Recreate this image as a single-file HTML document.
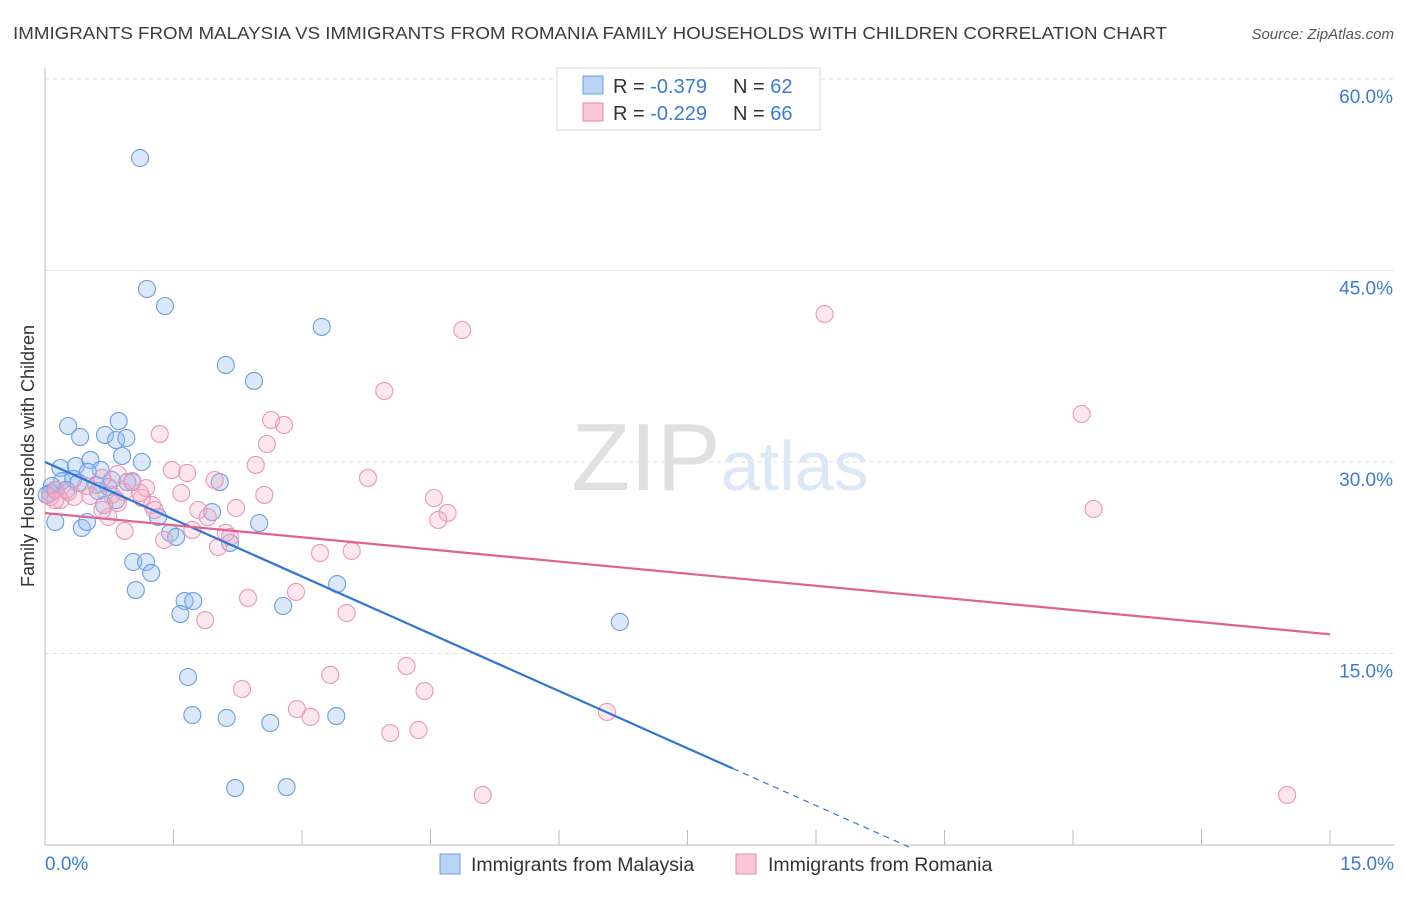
<!DOCTYPE html>
<html><head><meta charset="utf-8"><style>
body{margin:0;background:#fff;font-family:"Liberation Sans",sans-serif;}
svg text{font-family:"Liberation Sans",sans-serif;}
</style></head><body>
<svg id="chart" width="1406" height="892" xmlns="http://www.w3.org/2000/svg">
<text x="13" y="39" font-size="17.5" fill="#3c3c3c" textLength="1154" lengthAdjust="spacingAndGlyphs">IMMIGRANTS FROM MALAYSIA VS IMMIGRANTS FROM ROMANIA FAMILY HOUSEHOLDS WITH CHILDREN CORRELATION CHART</text>
<text x="1394" y="39" font-size="15" fill="#555" text-anchor="end" font-style="italic">Source: ZipAtlas.com</text>
<g id="grid"></g>
<text x="720" y="490" font-size="96" fill="#e4e4e4" text-anchor="middle" font-family="Liberation Serif"><tspan fill="#e0e0e0">ZIP</tspan><tspan fill="#dce8f6" font-family="Liberation Sans" font-size="70">atlas</tspan></text>
<line x1="45" y1="68" x2="45" y2="845" stroke="#bbb"/>
<line x1="45" y1="845" x2="1394" y2="845" stroke="#bbb"/>
<g id="ticks"></g>
<g id="pts"></g>
<g id="lines"></g>
<text transform="translate(34,456) rotate(-90)" font-size="18" fill="#333" text-anchor="middle">Family Households with Children</text>
<g>
<rect x="557" y="68" width="263" height="62" fill="#fff" stroke="#d8d8d8"/>
<rect x="583" y="76" width="20" height="18" fill="#b9d3f5" stroke="#6a9ee0"/>
<rect x="583" y="103" width="20" height="18" fill="#f9c6d6" stroke="#e88aa8"/>
<text x="613" y="93" font-size="20" fill="#333">R = <tspan fill="#3a7bd5">-0.379</tspan><tspan x="733">N = </tspan><tspan fill="#3a7bd5">62</tspan></text>
<text x="613" y="120" font-size="20" fill="#333">R = <tspan fill="#3a7bd5">-0.229</tspan><tspan x="733">N = </tspan><tspan fill="#3a7bd5">66</tspan></text>
</g>
<g>
<rect x="440" y="854" width="20" height="20" fill="#b9d3f5" stroke="#6a9ee0"/>
<text x="471" y="871" font-size="19.5" fill="#333">Immigrants from Malaysia</text>
<rect x="736" y="854" width="20" height="20" fill="#f9c6d6" stroke="#e88aa8"/>
<text x="768" y="871" font-size="19.5" fill="#333">Immigrants from Romania</text>
</g>
</svg>
<script>
const xTicks=[0,1.5,3,4.5,6,7.5,9,10.5,12,13.5,15];
const yTicks=[15,30,45,60];
const yTickLabels=["15.0%","30.0%","45.0%","60.0%"];
const xEndLabels=["0.0%","15.0%"];
const malaysiaX=[1.11,1.19,1.40,3.23,2.11,2.44,0.27,0.41,0.70,0.86,0.83,0.95,0.90,1.13,0.18,0.36,0.53,0.65,0.50,0.20,0.33,0.08,0.06,0.60,0.74,0.96,1.02,2.04,1.95,0.12,0.43,0.49,0.69,0.83,1.32,1.46,1.53,2.16,2.50,1.03,1.18,1.24,1.06,1.63,1.73,1.58,2.78,3.41,6.71,1.67,1.72,2.12,2.63,3.40,2.22,2.82,0.12,0.02,0.25,0.78,0.62,0.39];
const malaysiaY=[53.81,43.55,42.22,40.58,37.60,36.35,32.82,31.96,32.12,33.21,31.72,31.88,30.47,30.00,29.53,29.69,30.16,29.37,29.22,28.51,28.67,28.12,27.57,28.20,28.04,28.43,28.43,28.43,26.08,25.30,24.83,25.30,26.63,27.02,25.69,24.44,24.13,23.66,25.22,22.17,22.17,21.31,19.97,19.11,19.11,18.09,18.72,20.44,17.47,13.16,10.18,9.95,9.56,10.10,4.46,4.54,27.81,27.42,27.81,28.59,27.73,28.36];
const romaniaX=[9.10,4.87,3.96,2.64,2.79,1.34,2.59,2.46,1.48,1.66,0.85,1.98,3.77,1.02,1.18,1.59,2.56,4.54,4.70,4.59,12.10,12.24,2.23,1.79,1.90,1.25,1.28,0.74,0.53,0.34,0.18,0.06,0.13,0.67,0.93,1.39,2.02,2.16,3.21,3.58,2.93,2.37,1.87,3.52,2.30,3.33,4.22,4.43,2.94,3.10,4.03,4.36,6.56,5.11,14.50,1.13,0.92,1.72,1.11,0.27,0.12,0.48,0.78,0.67,0.85,2.11];
const romaniaY=[41.59,40.34,35.56,33.29,32.90,32.19,31.41,29.77,29.37,29.14,29.06,28.59,28.75,28.51,27.96,27.57,27.42,27.18,26.01,25.46,33.76,26.32,26.40,26.24,25.69,26.63,26.24,25.69,27.34,27.26,27.02,27.26,27.81,28.75,24.60,23.89,23.34,24.13,22.87,23.03,19.82,19.35,17.62,18.17,12.22,13.32,14.02,12.06,10.65,10.03,8.77,9.01,10.42,3.92,3.92,27.18,27.65,24.67,27.57,27.65,27.02,28.12,27.42,26.24,26.79,24.44];
const malaysiaTrend=[30.0,-2.99];
const malaysiaSolidEnd=8.03, malaysiaDashEnd=10.1;
const romaniaTrend=[26.0,-0.633];

const NS="http://www.w3.org/2000/svg";
const sx=v=>45+v*(1330-45)/15;
const sy=v=>845-v*(845-79)/60;
function mk(tag,attrs,parent){const e=document.createElementNS(NS,tag);for(const k in attrs)e.setAttribute(k,attrs[k]);parent.appendChild(e);return e;}
const grid=document.getElementById('grid'),ticks=document.getElementById('ticks'),pts=document.getElementById('pts'),lines=document.getElementById('lines');
yTicks.forEach((t,i)=>{
  const l=mk('line',{x1:45,x2:1394,y1:sy(t),y2:sy(t),stroke:'#ddd','stroke-dasharray':'4,4'},grid);
  
  
  const tx=mk('text',{x:1393,y:sy(t)+24,'font-size':19,fill:'#3a7bd5','text-anchor':'end'},ticks);
  tx.textContent=yTickLabels[i];
  
  
});
xTicks.forEach(t=>{
  const l=mk('line',{x1:sx(t),x2:sx(t),y1:830,y2:845,stroke:'#bbb'},ticks);
  
  
});
[[0,'start',45],[15,'end',1394]].forEach((d,i)=>{
  const tx=mk('text',{x:d[2],y:870,'font-size':19,fill:'#3a7bd5','text-anchor':d[1]},ticks);
  tx.textContent=xEndLabels[i];
  
  
});
malaysiaX.forEach((x,i)=>{
  const c=mk('circle',{cx:sx(x),cy:sy(malaysiaY[i]),r:8.5,fill:'rgba(150,190,240,0.35)',stroke:'#6a9ee0','stroke-width':1.1},pts);
  
  
});
romaniaX.forEach((x,i)=>{
  const c=mk('circle',{cx:sx(x),cy:sy(romaniaY[i]),r:8.5,fill:'rgba(245,175,198,0.3)',stroke:'#eb96b2','stroke-width':1.1},pts);
  
  
});
const fb=x=>malaysiaTrend[0]+malaysiaTrend[1]*x, fp=x=>romaniaTrend[0]+romaniaTrend[1]*x;
const b1=mk('line',{x1:sx(0),y1:sy(fb(0)),x2:sx(malaysiaSolidEnd),y2:sy(fb(malaysiaSolidEnd)),stroke:'#2f74d8','stroke-width':2.2},lines);


const b2=mk('line',{x1:sx(malaysiaSolidEnd),y1:sy(fb(malaysiaSolidEnd)),x2:sx(malaysiaDashEnd),y2:sy(fb(malaysiaDashEnd)),stroke:'#2f74d8','stroke-width':1.2,'stroke-dasharray':'6,5'},lines);


const p1=mk('line',{x1:sx(0),y1:sy(fp(0)),x2:sx(15),y2:sy(fp(15)),stroke:'#e0628e','stroke-width':2.2},lines);


</script>
</body></html>
